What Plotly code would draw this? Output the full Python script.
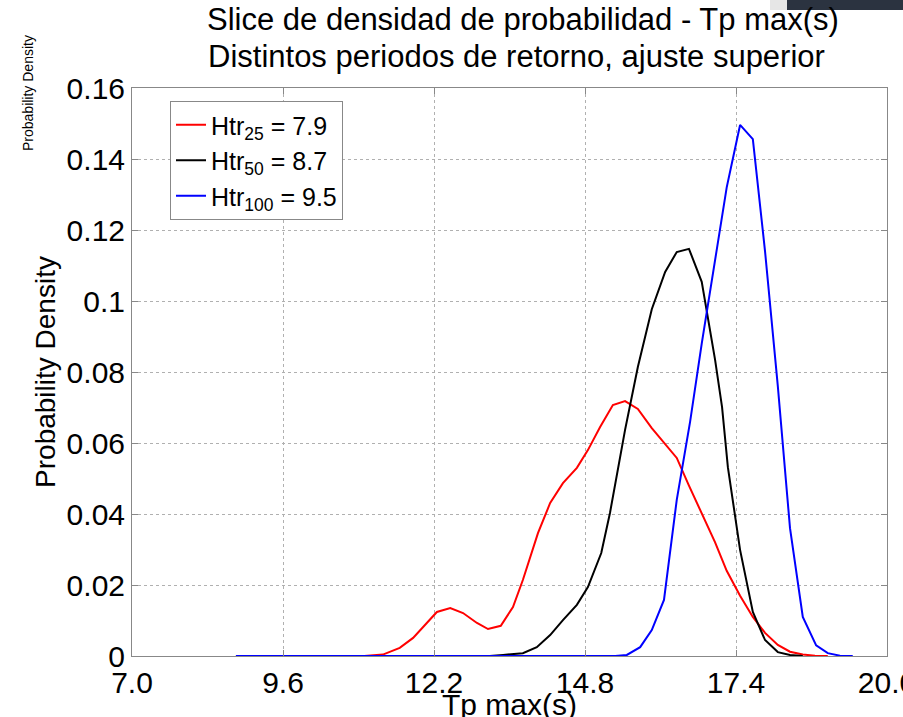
import plotly.graph_objects as go

# ---- data ----
red_x = [8.79, 11.00, 11.32, 11.61, 11.84, 12.04, 12.25, 12.48, 12.70, 12.94, 13.13, 13.35,
         13.56, 13.73, 13.99, 14.20, 14.42, 14.66, 14.85, 15.06, 15.28, 15.49, 15.71,
         15.95, 16.18, 16.38, 16.59, 16.81, 17.04, 17.24, 17.47, 17.69, 17.90, 18.12,
         18.33, 18.55, 18.76, 18.98]
red_y = [0.0, 0.0, 0.0004, 0.0023, 0.0051, 0.0087, 0.0124, 0.0135, 0.0121, 0.0093, 0.0076,
         0.0085, 0.0138, 0.0214, 0.0346, 0.0431, 0.0487, 0.0530, 0.0580, 0.0645, 0.0707,
         0.0718, 0.0696, 0.0642, 0.0597, 0.0558, 0.0480, 0.0400, 0.0320, 0.0240, 0.0170,
         0.0110, 0.0065, 0.0031, 0.0012, 0.0004, 0.0001, 0.0]

black_x = [8.79, 13.16, 13.39, 13.73, 13.97, 14.20, 14.42, 14.66, 14.85, 15.08, 15.23, 15.37,
           15.49, 15.71, 15.95, 16.18, 16.38, 16.59, 16.81, 17.04, 17.16, 17.26, 17.47,
           17.69, 17.90, 18.12, 18.33, 18.55]
black_y = [0.0, 0.0, 0.0003, 0.0008, 0.0025, 0.0059, 0.0101, 0.0144, 0.0194, 0.0290, 0.0403,
           0.0524, 0.0637, 0.0814, 0.0977, 0.1082, 0.1138, 0.1147, 0.1054, 0.0834, 0.0701,
           0.0532, 0.0299, 0.0124, 0.0045, 0.0011, 0.0003, 0.0]

blue_x = [8.79, 15.32, 15.52, 15.75, 15.95, 16.16, 16.38, 16.61, 16.81, 17.04, 17.24, 17.47,
          17.69, 17.90, 18.12, 18.33, 18.55, 18.78, 18.98, 19.19, 19.41]
blue_y = [0.0, 0.0, 0.0003, 0.0025, 0.0073, 0.0158, 0.0440, 0.0660, 0.0880, 0.1110, 0.1320,
          0.1496, 0.1456, 0.1140, 0.0760, 0.0360, 0.0110, 0.0030, 0.0008, 0.0001, 0.0]

series_names = ["Htr<sub>25</sub> = 7.9", "Htr<sub>50</sub> = 8.7", "Htr<sub>100</sub> = 9.5"]
series_colors = ["#ff0000", "#000000", "#0000ff"]

x_tick_vals = [7.0, 9.6, 12.2, 14.8, 17.4, 20.0]
x_tick_text = ["7.0", "9.6", "12.2", "14.8", "17.4", "20.0"]
y_tick_vals = [0, 0.02, 0.04, 0.06, 0.08, 0.10, 0.12, 0.14, 0.16]
y_tick_text = ["0", "0.02", "0.04", "0.06", "0.08", "0.1", "0.12", "0.14", "0.16"]

title_line1 = "Slice de densidad de probabilidad - Tp max(s)"
title_line2 = "Distintos periodos de retorno, ajuste superior"
x_label = "Tp max(s)"
y_label = "Probability Density"

FONT = "Liberation Sans, Arial, sans-serif"

# plot area in pixels: x 132..887, y 88..656
L, R, T, B = 132, 887, 88, 656
def px(xp):
    return (xp - L) / (R - L)
def py(yp):
    return (B - yp) / (B - T)

fig = go.Figure()
for xs, ys, name, col in zip([red_x, black_x, blue_x], [red_y, black_y, blue_y],
                             series_names, series_colors):
    fig.add_trace(go.Scatter(x=xs, y=ys, mode="lines", name=name,
                             line=dict(color=col, width=2)))

axis_common = dict(
    showline=True, linecolor="#888888", linewidth=1, mirror="ticks",
    ticks="inside", ticklen=6, tickcolor="#888888",
    showgrid=True, gridcolor="#b0b0b0", griddash="dot", gridwidth=1,
    zeroline=False, automargin=False, ticklabeloverflow="allow",
    tickfont=dict(family=FONT, size=30, color="#000000"),
)

fig.update_layout(
    width=903, height=717,
    margin=dict(l=L, r=903 - R, t=T, b=717 - B),
    paper_bgcolor="white", plot_bgcolor="white",
    font=dict(family=FONT, color="#000000"),
    xaxis=dict(range=[7, 20], tickvals=x_tick_vals, ticktext=x_tick_text, **axis_common),
    yaxis=dict(range=[0, 0.16], tickvals=y_tick_vals, ticktext=y_tick_text,
               title=dict(text=y_label, font=dict(family=FONT, size=28), standoff=2),
               **axis_common),
    showlegend=True,
    legend=dict(x=px(170), y=py(101), xanchor="left", yanchor="top",
                bgcolor="white", bordercolor="#888888", borderwidth=1,
                font=dict(family=FONT, size=25, color="#000000"),
                tracegroupgap=0),
    annotations=[
        dict(text=title_line1, xref="paper", yref="paper", x=px(523), y=py(20),
             showarrow=False, xanchor="center", yanchor="middle",
             font=dict(family=FONT, size=31, color="#000000")),
        dict(text=title_line2, xref="paper", yref="paper", x=px(516), y=py(57),
             showarrow=False, xanchor="center", yanchor="middle",
             font=dict(family=FONT, size=31, color="#000000")),
        dict(text=x_label, xref="paper", yref="paper", x=px(509.5), y=py(686),
             showarrow=False, xanchor="center", yanchor="top",
             font=dict(family=FONT, size=30, color="#000000")),
        dict(text="Probability Density", xref="paper", yref="paper",
             x=px(28), y=py(93), textangle=-90, showarrow=False,
             font=dict(family=FONT, size=14, color="#000000"),
             xanchor="center", yanchor="middle"),
    ],
    shapes=[
        dict(type="rect", xref="paper", yref="paper", x0=px(787), x1=px(903),
             y0=py(10), y1=py(0), fillcolor="#2b3340", line=dict(width=0), layer="below"),
        dict(type="rect", xref="paper", yref="paper", x0=px(770), x1=px(787),
             y0=py(10), y1=py(0), fillcolor="#e6e6e6", line=dict(width=0), layer="below"),
    ],
)

fig.write_html("out.html")
